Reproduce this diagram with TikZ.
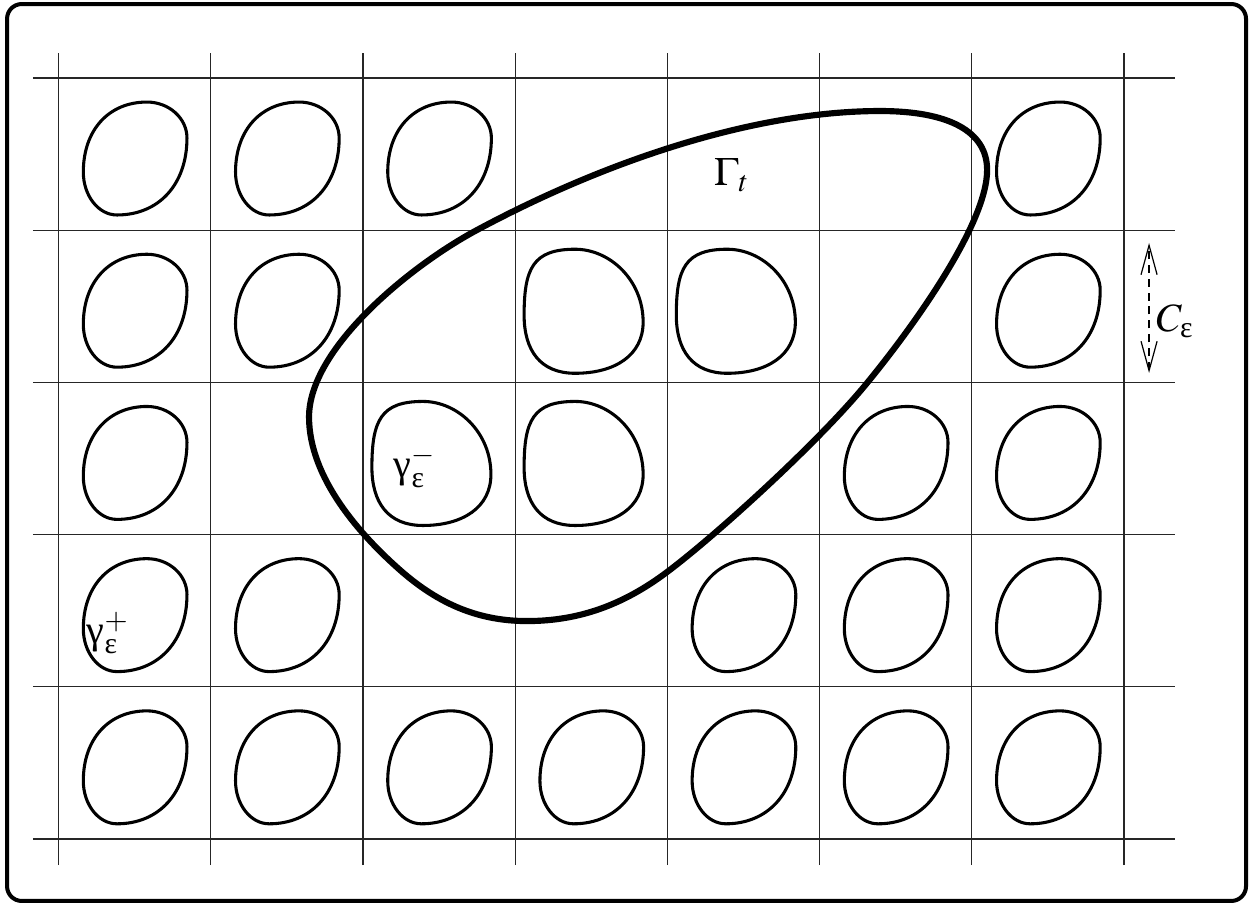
\documentclass[tikz,border=0pt]{standalone}
\usepackage{mathptmx}
\usepackage{amsmath}
\usepackage{fontspec}
\setmainfont{Liberation Serif}
\usepackage{tikz}
\usetikzlibrary{arrows.meta}
\begin{document}
\begin{tikzpicture}[
  x=2cm, y=2cm,
  frame/.style={draw, line width=1.5pt, rounded corners=5.5pt},
  gridline/.style={draw, black!85, line width=0.45pt},
  inclusion/.style={draw, line width=1.15pt},
  interface/.style={draw, line width=2.3pt},
  lbl/.style={inner sep=0pt, font=\fontsize{15}{18}\selectfont},
  period/.style={draw, line width=0.45pt, dash pattern=on 3pt off 2.2pt,
    {Straight Barb[length=11pt, width=6pt]}-{Straight Barb[length=11pt, width=6pt]}}
]
  \useasboundingbox (-0.3844,-0.4468) rectangle (7.861,5.5125);
  \draw[frame] (-0.338,-0.407) rectangle (7.802,5.486);

  \foreach \i in {0,...,7}
    \draw[gridline] (\i,-0.171) -- (\i,5.164);
  \foreach \j in {0,...,5}
    \draw[gridline] (-0.168,\j) -- (7.336,\j);

  \foreach \c/\r in {0/4,1/4,2/4,6/4, 0/3,1/3,6/3, 0/2,5/2,6/2,
                     0/1,1/1,4/1,5/1,6/1, 0/0,1/0,2/0,3/0,4/0,5/0,6/0}
    \draw[inclusion, shift={(\c,\r)}]
      (0.581,0.842) .. controls (0.726,0.842) and (0.844,0.736) .. (0.844,0.606)
      .. controls (0.844,0.302) and (0.660,0.100) .. (0.384,0.100)
      .. controls (0.262,0.100) and (0.163,0.227) .. (0.163,0.382)
      .. controls (0.163,0.658) and (0.330,0.842) .. (0.581,0.842) -- cycle;

  \foreach \c/\r in {3/3,4/3,2/2,3/2}
    \draw[inclusion, shift={(\c,\r)}]
      (0.394,0.875) .. controls (0.624,0.875) and (0.841,0.671) .. (0.841,0.396)
      .. controls (0.841,0.179) and (0.657,0.060) .. (0.394,0.060)
      .. controls (0.164,0.060) and (0.059,0.212) .. (0.059,0.442)
      .. controls (0.059,0.750) and (0.118,0.875) .. (0.394,0.875) -- cycle;

  \coordinate (west) at (1.646,2.773);
  \coordinate (upper) at (2.749,4.001);
  \coordinate (north) at (5.398,4.783);
  \coordinate (east) at (6.101,4.396);
  \coordinate (lower) at (5.312,2.996);
  \coordinate (descent) at (3.998,1.754);
  \coordinate (south) at (3.078,1.432);
  \coordinate (rise) at (2.244,1.767);
  \draw[interface] (west)
    .. controls (1.646,3.223) and (2.309,3.765) .. (upper)
    .. controls (3.630,4.474) and (4.598,4.783) .. (north)
    .. controls (5.848,4.783) and (6.101,4.650) .. (east)
    .. controls (6.101,4.046) and (5.629,3.383) .. (lower)
    .. controls (4.996,2.609) and (4.318,1.994) .. (descent)
    .. controls (3.718,1.544) and (3.428,1.432) .. (south)
    .. controls (2.728,1.432) and (2.469,1.569) .. (rise)
    .. controls (1.982,1.998) and (1.646,2.373) .. (west) -- cycle;

  \node[lbl] (gammat) at (4.425,4.363) {$\Gamma_t$};
  \node[lbl] (gminus) at (2.342,2.444) {$\text{γ}_{\text{ε}}^{-}$};
  \node[lbl] (gplus) at (0.325,1.353) {$\text{γ}_{\text{ε}}^{+}$};
  \node[lbl] (ceps) at (7.336,3.403) {$C_{\text{ε}}$};

  \coordinate (ptop) at (7.165,3.916);
  \coordinate (pbot) at (7.165,3.062);
  \draw[period] (pbot) -- (ptop);
\end{tikzpicture}
\end{document}
